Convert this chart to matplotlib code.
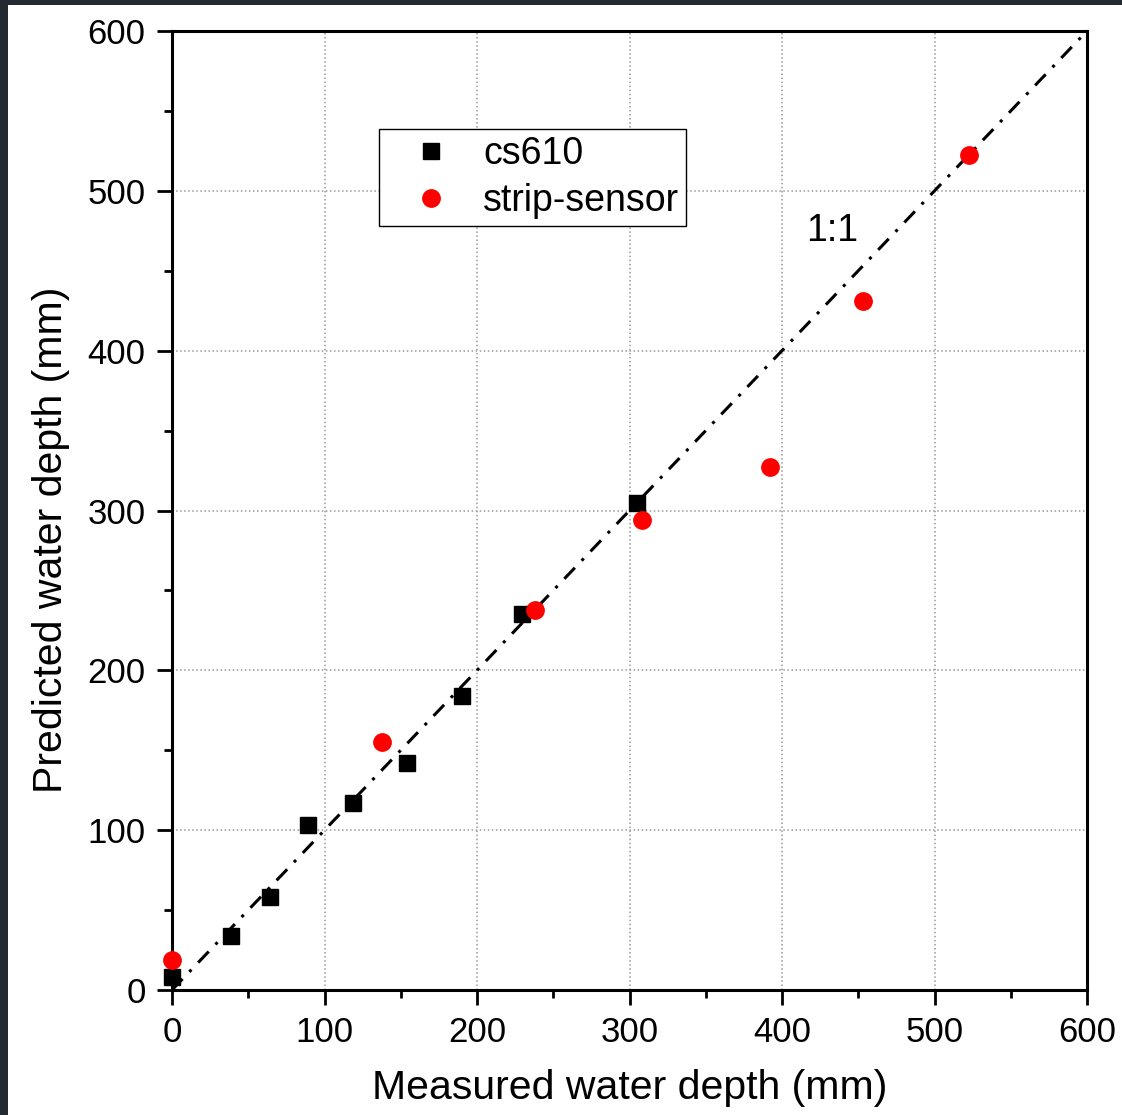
import matplotlib
matplotlib.use("Agg")
import matplotlib.pyplot as plt
from matplotlib.ticker import MultipleLocator
from matplotlib.patches import Rectangle

plt.rcParams['font.family'] = ['Liberation Sans', 'DejaVu Sans']

# cs610 readings
cs_meas = [0, 39, 64, 89, 119, 154, 190, 229.5, 305]
cs_pred = [8, 34, 58, 103, 117, 142, 184, 235, 305]

# strip-sensor readings
ss_meas = [0, 138, 238, 308, 392, 453, 522.5]
ss_pred = [19, 155, 238, 294, 327, 431, 522.5]

ticks = [0, 100, 200, 300, 400, 500, 600]

fig = plt.figure(figsize=(11.22, 11.15), dpi=100, facecolor='#242a32')
# white page inside the dark screenshot border
fig.patches.append(Rectangle((8 / 1122, 0), 1, 1 - 5 / 1115, transform=fig.transFigure,
                             facecolor='white', edgecolor='none', zorder=-10))

ax = fig.add_axes([172 / 1122, 125 / 1115, 915 / 1122, 959 / 1115])

ax.plot([0, 600], [0, 600], color='black', lw=2.2, linestyle=(0, (5, 3.2, 1, 3.2)), zorder=2)
ax.plot(cs_meas, cs_pred, 's', color='black', ms=11.5, ls='none', label='cs610', zorder=3, clip_on=False)
ax.plot(ss_meas, ss_pred, 'o', color='red', ms=12.5, ls='none', label='strip-sensor', zorder=3, clip_on=False)

ax.text(433, 475, '1:1', fontsize=27, ha='center', va='center')

ax.set_xlim(0, 600)
ax.set_ylim(0, 600)
ax.set_xticks(ticks)
ax.set_yticks(ticks)
ax.xaxis.set_minor_locator(MultipleLocator(50))
ax.yaxis.set_minor_locator(MultipleLocator(50))
ax.tick_params(which='major', direction='out', length=11, width=2, labelsize=25, pad=8)
ax.tick_params(which='minor', direction='out', length=6, width=2)
for s in ax.spines.values():
    s.set_linewidth(2.2)

ax.grid(True, which='major', color='#999999', linestyle=':', lw=1.1)

ax.set_xlabel('Measured water depth (mm)', fontsize=29.5, labelpad=14)
ax.set_ylabel('Predicted water depth (mm)', fontsize=29.5)
ax.yaxis.set_label_coords(-0.112, 0.469)

leg = ax.legend(loc='upper left', bbox_to_anchor=(207 / 915, 861 / 959), fontsize=27,
                frameon=True, fancybox=False, framealpha=1, edgecolor='black',
                handletextpad=0.2, borderpad=0.18, labelspacing=0.3, handlelength=2.4,
                borderaxespad=0)
leg.get_frame().set_linewidth(1)

fig.savefig('out.png', dpi=100, facecolor=fig.get_facecolor())
